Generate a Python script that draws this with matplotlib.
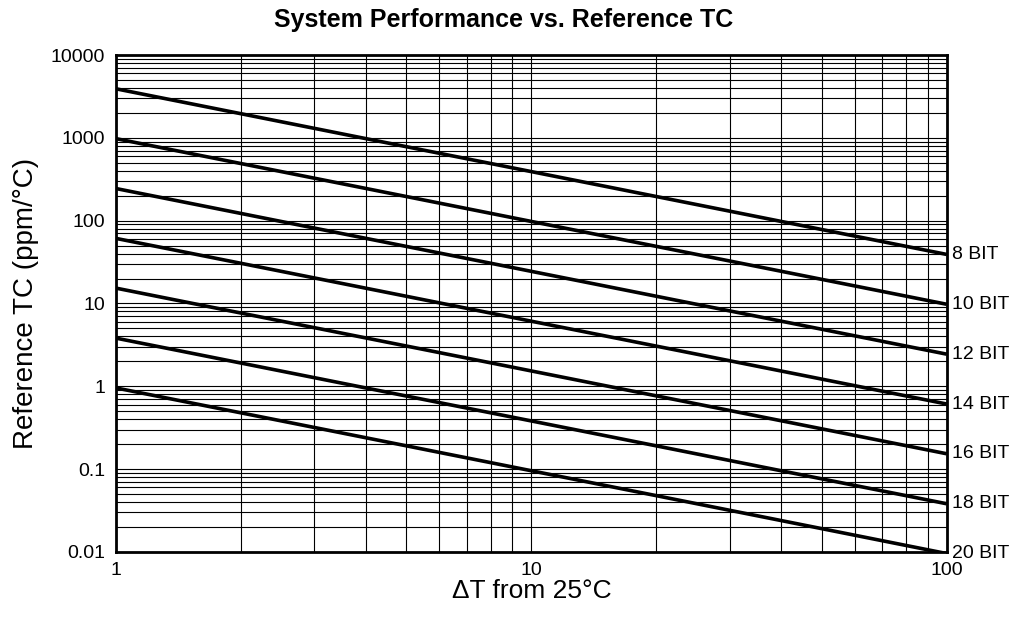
import matplotlib
matplotlib.use("Agg")
import matplotlib.pyplot as plt
from matplotlib.ticker import FixedLocator, NullFormatter, LogLocator

plt.rcParams['font.family'] = ['Liberation Sans', 'DejaVu Sans']

# 数据：每条线在 ΔT=1 和 ΔT=100 处的读数
dt = [1, 100]
bits = ["8 BIT", "10 BIT", "12 BIT", "14 BIT", "16 BIT", "18 BIT", "20 BIT"]
tc_at_1 = [3906, 977, 244, 61, 15.3, 3.81, 0.954]
tc_at_100 = [39.06, 9.77, 2.44, 0.61, 0.153, 0.0381, 0.00954]

xticks = [1, 10, 100]
xticklabels = ["1", "10", "100"]
yticks = [0.01, 0.1, 1, 10, 100, 1000, 10000]
yticklabels = ["0.01", "0.1", "1", "10", "100", "1000", "10000"]

fig = plt.figure(figsize=(10.18, 6.18), dpi=100)
ax = fig.add_axes([0.114, 0.107, 0.816, 0.804])

for name, a, b in zip(bits, tc_at_1, tc_at_100):
    ax.plot(dt, [a, b], color="black", lw=2.6, solid_capstyle="butt", zorder=3)
    # 右侧的位数标签
    ax.annotate(name, xy=(dt[-1], b), xytext=(4, 0), textcoords="offset points",
                va="center", ha="left", fontsize=14, annotation_clip=False)

ax.set_xscale("log")
ax.set_yscale("log")
ax.set_xlim(1, 100)
ax.set_ylim(0.01, 10000)

ax.xaxis.set_major_locator(FixedLocator(xticks))
ax.set_xticklabels(xticklabels)
ax.yaxis.set_major_locator(FixedLocator(yticks))
ax.set_yticklabels(yticklabels)
ax.xaxis.set_minor_locator(LogLocator(base=10, subs=range(2, 10)))
ax.yaxis.set_minor_locator(LogLocator(base=10, subs=range(2, 10)))
ax.xaxis.set_minor_formatter(NullFormatter())
ax.yaxis.set_minor_formatter(NullFormatter())

ax.grid(True, which="both", color="black", lw=0.8)
ax.tick_params(which="both", length=0, labelsize=14)
ax.tick_params(axis="y", pad=8)
ax.tick_params(axis="x", pad=7)

for s in ax.spines.values():
    s.set_linewidth(2)

ax.set_xlabel("ΔT from 25°C", fontsize=19, labelpad=0)
ax.set_ylabel("Reference TC (ppm/°C)", fontsize=20, labelpad=8)
# 标题按整张图居中
fig.suptitle("System Performance vs. Reference TC", x=0.495, y=0.967,
             fontsize=18, fontweight="bold", va="center")

plt.savefig("out.png", dpi=100)
